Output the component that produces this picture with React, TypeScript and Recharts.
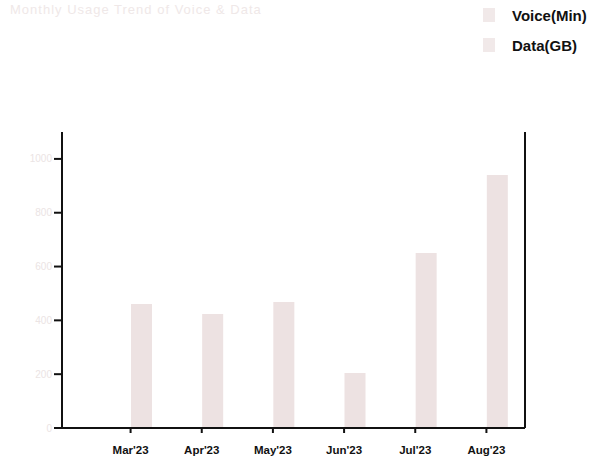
import React from "react";
import { BarChart, Bar, XAxis, YAxis } from "recharts";

const months = ["Mar'23", "Apr'23", "May'23", "Jun'23", "Jul'23", "Aug'23"];
const dataGB = [461, 424, 468, 204, 650, 940];
const voiceMin: (number | null)[] = [null, null, null, null, null, null];
const leftTicks = [0, 200, 400, 600, 800, 1000];
const rightTicks = [0, 1000, 2000, 3000, 4000, 5000];

const rows = months.map((m, i) => ({ month: m, data: dataGB[i], voice: voiceMin[i] }));

const FAINT = "#ebe4e4";
const BAR = "#ede2e2";

const XTick = (props: any) => {
  const { x, y, payload } = props;
  return (
    <text x={x} y={y + 19} textAnchor="middle" fontFamily="Liberation Sans, Arial, sans-serif" fontWeight="bold" fontSize={11.5} fill="#111">
      {payload.value}
    </text>
  );
};

export default function App() {
  return (
    <div style={{ position: "absolute", left: 0, top: 0, width: 608, height: 467, background: "#fff", fontFamily: "Liberation Sans, Arial, sans-serif" }}>
      <div style={{ position: "absolute", left: 10, top: 2, fontSize: 13, color: "#efe8e8", letterSpacing: 1 }}>
        Monthly Usage Trend of Voice &amp; Data
      </div>
      <div style={{ position: "absolute", left: 483, top: 4 }}>
        {[
          { name: "Voice(Min)", top: 0 },
          { name: "Data(GB)", top: 30 },
        ].map((it) => (
          <div key={it.name} style={{ position: "absolute", left: 0, top: it.top, width: 130, height: 22, display: "flex", alignItems: "center" }}>
            <span style={{ display: "inline-block", width: 12, height: 14, background: "#f1e9e9", marginRight: 17 }} />
            <span style={{ fontWeight: "bold", fontSize: 15, color: "#111" }}>{it.name}</span>
          </div>
        ))}
      </div>
      <BarChart
        width={608}
        height={467}
        data={rows}
        margin={{ top: 132, right: 15, bottom: 9, left: 0 }}
        barGap={0}
        barSize={21}
      >
        <XAxis
          dataKey="month"
          height={30}
          padding={{ left: 33, right: 3 }}
          axisLine={{ stroke: "#111", strokeWidth: 2 }}
          tickLine={{ stroke: "#111", strokeWidth: 2 }}
          tickSize={5}
          tick={<XTick />}
          interval={0}
        />
        <YAxis
          yAxisId="left"
          width={62}
          domain={[0, 1100]}
          ticks={leftTicks}
          axisLine={{ stroke: "#111", strokeWidth: 2 }}
          tickLine={{ stroke: "#111", strokeWidth: 2 }}
          tickSize={8}
          tick={{ fill: FAINT, fontSize: 10 }}
        />
        <YAxis
          yAxisId="right"
          orientation="right"
          width={68}
          domain={[0, 5500]}
          ticks={rightTicks}
          axisLine={{ stroke: "#111", strokeWidth: 2 }}
          tickLine={false}
          tick={{ fill: FAINT, fontSize: 10 }}
        />
        <Bar yAxisId="right" dataKey="voice" name="Voice(Min)" fill="#ddd" isAnimationActive={false} />
        <Bar yAxisId="left" dataKey="data" name="Data(GB)" fill={BAR} isAnimationActive={false} />
      </BarChart>
    </div>
  );
}
